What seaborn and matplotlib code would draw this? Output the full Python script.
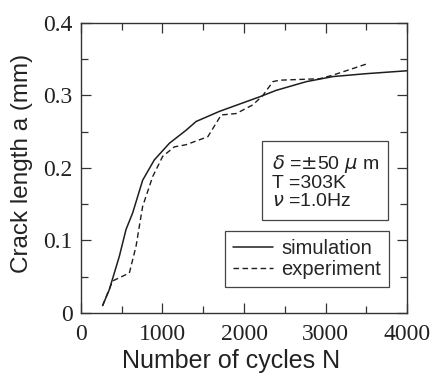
import matplotlib
matplotlib.use("Agg")
import matplotlib.pyplot as plt
from matplotlib.ticker import MultipleLocator
import pandas as pd
import seaborn as sns

# simulation curve
sim_n = [266, 348, 471, 553, 635, 757, 900, 1085, 1290, 1412, 1699, 2190, 2395, 2764, 3091, 3500, 4000]
sim_a = [0.010, 0.032, 0.078, 0.115, 0.138, 0.183, 0.211, 0.234, 0.252, 0.264, 0.278, 0.298, 0.307, 0.319, 0.326, 0.330, 0.334]

# experiment curve
exp_n = [266, 389, 594, 676, 757, 880, 1003, 1146, 1290, 1556, 1720, 1904, 2109, 2231, 2354, 2436, 2927, 3091, 3520]
exp_a = [0.010, 0.044, 0.055, 0.092, 0.147, 0.188, 0.216, 0.229, 0.232, 0.243, 0.273, 0.275, 0.287, 0.300, 0.319, 0.321, 0.323, 0.328, 0.344]

x_ticks = [0, 1000, 2000, 3000, 4000]
y_ticks = [0, 0.1, 0.2, 0.3, 0.4]
y_tick_labels = ["0", "0.1", "0.2", "0.3", "0.4"]

sim = pd.DataFrame({"N": sim_n, "a": sim_a})
exp = pd.DataFrame({"N": exp_n, "a": exp_a})

sns.set_style("ticks")
plt.rcParams["font.family"] = ["Liberation Sans", "DejaVu Sans"]

fig = plt.figure(figsize=(4.35, 3.82), dpi=100)
ax = fig.add_axes([0.186, 0.181, 0.750, 0.759])

sns.lineplot(data=sim, x="N", y="a", ax=ax, color="#1e1e1e", lw=1.1, label="simulation")
sns.lineplot(data=exp, x="N", y="a", ax=ax, color="#1e1e1e", lw=1.0, ls=(0, (4, 2.5)), label="experiment")

ax.set_xlim(0, 4000)
ax.set_ylim(0, 0.4)
ax.set_xticks(x_ticks)
ax.set_yticks(y_ticks)
ax.set_yticklabels(y_tick_labels)
ax.xaxis.set_minor_locator(MultipleLocator(500))
ax.yaxis.set_minor_locator(MultipleLocator(0.05))
ax.tick_params(which="both", direction="in", top=True, right=True, width=0.9, color="#333333")
ax.tick_params(which="major", length=7)
ax.tick_params(which="minor", length=5)
ax.tick_params(axis="x", which="major", pad=8)
ax.tick_params(axis="y", which="major", pad=6)
for lab in ax.get_xticklabels() + ax.get_yticklabels():
    lab.set_fontfamily("Liberation Serif")
    lab.set_fontsize(17)
    lab.set_color("#222222")
for sp in ax.spines.values():
    sp.set_linewidth(1.0)
    sp.set_color("#333333")

ax.set_xlabel("Number of cycles N", fontsize=18, color="#222222")
ax.set_ylabel("Crack length a (mm)", fontsize=17.5, color="#222222")
ax.xaxis.set_label_coords(0.46, -0.125)
ax.yaxis.set_label_coords(-0.147, 0.514)

ax.text(0.585, 0.552, "$\\delta$ =$\\pm$50 $\\mu$ m\nT =303K\n$\\nu$ =1.0Hz",
        transform=ax.transAxes, fontsize=14, color="#222222", va="top", ha="left",
        linespacing=1.05,
        bbox=dict(boxstyle="square,pad=0.5", fc="white", ec="#444444", lw=0.9))

leg = ax.legend(loc="lower right", bbox_to_anchor=(0.945, 0.09), fontsize=14.5,
                frameon=True, fancybox=False, edgecolor="#444444", framealpha=1,
                handlelength=2.0, handletextpad=0.4, borderpad=0.4, labelspacing=0.1,
                borderaxespad=0)
leg.get_frame().set_linewidth(0.9)

fig.savefig("out.png", dpi=100)
